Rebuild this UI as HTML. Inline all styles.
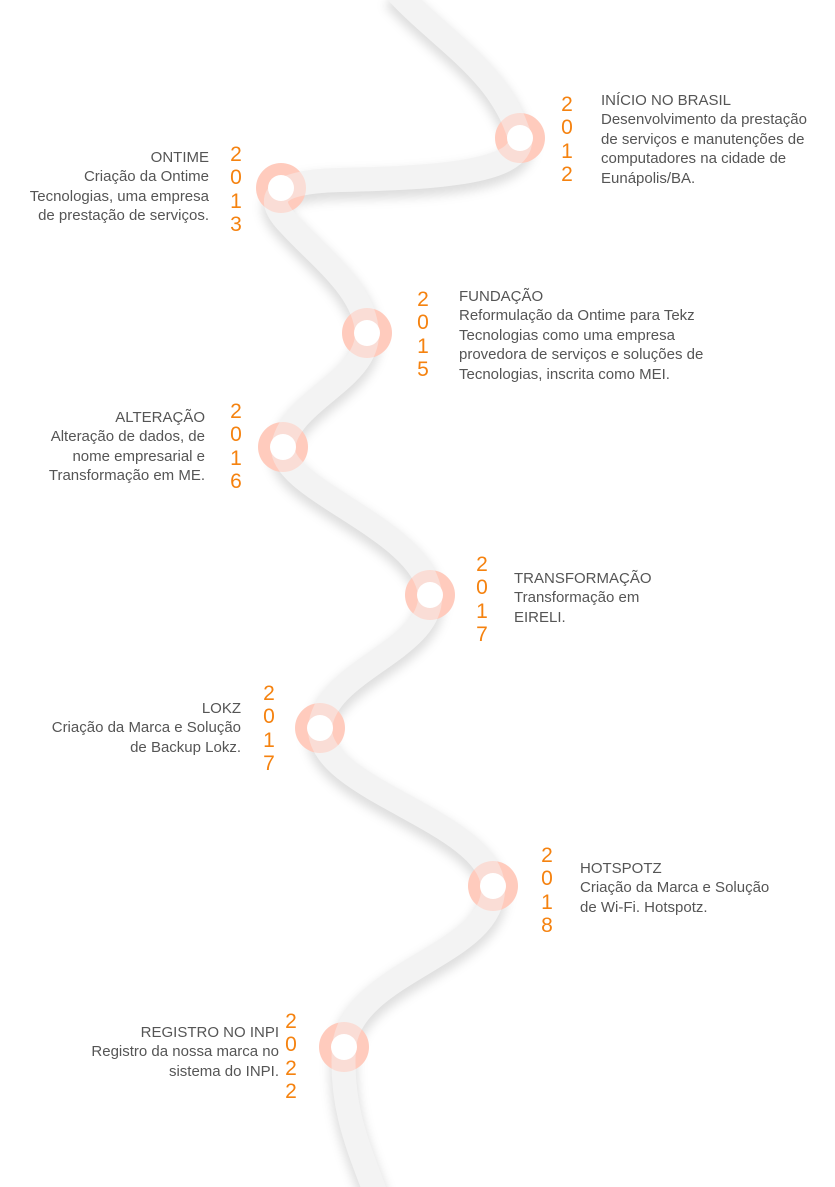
<!DOCTYPE html>
<html><head><meta charset="utf-8"><style>
html,body{margin:0;padding:0;background:#fff;}
body{width:835px;height:1187px;position:relative;overflow:hidden;font-family:"Liberation Sans",sans-serif;}
svg{position:absolute;left:0;top:0;}
.t{position:absolute;font-size:15px;line-height:19.4px;color:#555;white-space:nowrap;}
.r{text-align:right;}
.y{position:absolute;font-size:21px;line-height:23.3px;color:#f5820f;width:20px;text-align:center;}
</style></head><body>
<svg width="835" height="1187">
<defs>
<filter id="sh" x="-20%" y="-5%" width="140%" height="110%"><feGaussianBlur stdDeviation="5"/></filter>
<path id="p" d="M395,-10 C440,40 500,70 520,138 C525,175 420,178 340,180 C260,182 270,205 290,225 C320,258 365,290 367,333 C368,380 290,400 283,447 C280,490 425,530 430,595 C433,650 325,670 320,728 C318,790 488,820 493,886 C497,955 352,970 344,1047 C340,1110 360,1150 378,1200" fill="none"/>
</defs>
<use href="#p" stroke="#000" stroke-opacity="0.13" stroke-width="28" filter="url(#sh)" transform="translate(0,6)"/>
<use href="#p" stroke="#f3f3f3" stroke-width="24"/>
<g fill="#ffcbbd">
<circle cx="520" cy="138" r="25"/><circle cx="281" cy="188" r="25"/><circle cx="367" cy="333" r="25"/><circle cx="283" cy="447" r="25"/><circle cx="430" cy="595" r="25"/><circle cx="320" cy="728" r="25"/><circle cx="493" cy="886" r="25"/><circle cx="344" cy="1047" r="25"/>
</g>
<use href="#p" stroke="#f4f4f4" stroke-opacity="0.45" stroke-width="24"/>
<g fill="#fff">
<circle cx="520" cy="138" r="13"/><circle cx="281" cy="188" r="13"/><circle cx="367" cy="333" r="13"/><circle cx="283" cy="447" r="13"/><circle cx="430" cy="595" r="13"/><circle cx="320" cy="728" r="13"/><circle cx="493" cy="886" r="13"/><circle cx="344" cy="1047" r="13"/>
</g>
</svg>

<div class="y" style="left:557px;top:93px">2<br>0<br>1<br>2</div>
<div class="t" style="left:601px;top:91px">INÍCIO NO BRASIL<br>Desenvolvimento da prestação<br>de serviços e manutenções de<br>computadores na cidade de<br>Eunápolis/BA.</div>

<div class="y" style="left:226px;top:143px">2<br>0<br>1<br>3</div>
<div class="t r" style="right:626px;top:148px">ONTIME<br>Criação da Ontime<br>Tecnologias, uma empresa<br>de prestação de serviços.</div>

<div class="y" style="left:413px;top:288px">2<br>0<br>1<br>5</div>
<div class="t" style="left:459px;top:287px">FUNDAÇÃO<br>Reformulação da Ontime para Tekz<br>Tecnologias como uma empresa<br>provedora de serviços e soluções de<br>Tecnologias, inscrita como MEI.</div>

<div class="y" style="left:226px;top:400px">2<br>0<br>1<br>6</div>
<div class="t r" style="right:630px;top:408px">ALTERAÇÃO<br>Alteração de dados, de<br>nome empresarial e<br>Transformação em ME.</div>

<div class="y" style="left:472px;top:553px">2<br>0<br>1<br>7</div>
<div class="t" style="left:514px;top:569px">TRANSFORMAÇÃO<br>Transformação em<br>EIRELI.</div>

<div class="y" style="left:259px;top:682px">2<br>0<br>1<br>7</div>
<div class="t r" style="right:594px;top:699px">LOKZ<br>Criação da Marca e Solução<br>de Backup Lokz.</div>

<div class="y" style="left:537px;top:844px">2<br>0<br>1<br>8</div>
<div class="t" style="left:580px;top:859px">HOTSPOTZ<br>Criação da Marca e Solução<br>de Wi-Fi. Hotspotz.</div>

<div class="y" style="left:281px;top:1010px">2<br>0<br>2<br>2</div>
<div class="t r" style="right:556px;top:1023px">REGISTRO NO INPI<br>Registro da nossa marca no<br>sistema do INPI.</div>
</body></html>
